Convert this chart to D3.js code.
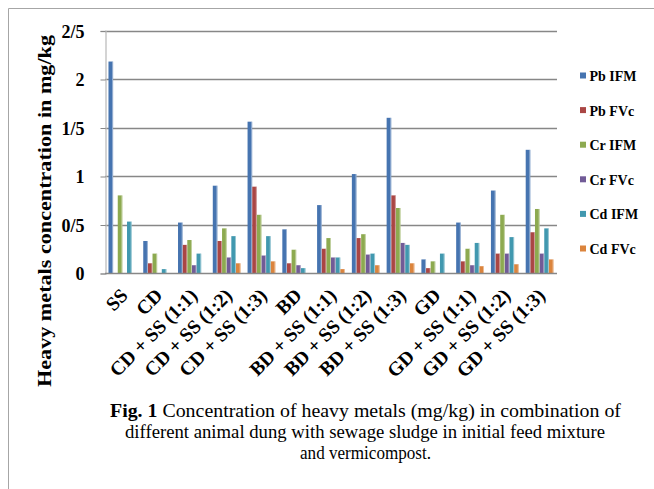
<!DOCTYPE html>
<html><head><meta charset="utf-8">
<script src="https://cdn.jsdelivr.net/npm/d3@7/dist/d3.min.js"></script>
<style>
body{margin:0;background:#fff;}
svg text, svg tspan{font-family:'Liberation Serif','Times New Roman',serif !important;}
</style></head>
<body><svg id="c" width="654" height="489" font-family="'Liberation Serif', serif"></svg>
<script>
const categories = ["SS","CD","CD + SS (1:1)","CD + SS (1:2)","CD + SS (1:3)","BD","BD + SS (1:1)","BD + SS (1:2)","BD + SS (1:3)","GD","GD + SS (1:1)","GD + SS (1:2)","GD + SS (1:3)"];
const seriesNames = ["Pb IFM","Pb FVc","Cr IFM","Cr FVc","Cd IFM","Cd FVc"];
const pbIFM = [2.18,0.33,0.52,0.90,1.56,0.45,0.70,1.02,1.60,0.14,0.52,0.85,1.27];
const pbFVc = [0,0.10,0.29,0.33,0.89,0.10,0.25,0.36,0.80,0.05,0.12,0.20,0.42];
const crIFM = [0.80,0.20,0.34,0.46,0.60,0.24,0.36,0.40,0.67,0.12,0.25,0.60,0.66];
const crFVc = [0,0,0.08,0.16,0.18,0.08,0.16,0.19,0.31,0,0.08,0.20,0.20];
const cdIFM = [0.53,0.04,0.20,0.38,0.38,0.05,0.16,0.20,0.29,0.20,0.31,0.37,0.46];
const cdFVc = [0,0,0,0.10,0.12,0,0.04,0.08,0.10,0,0.07,0.09,0.14];
const yTickValues = [0,0.5,1,1.5,2,2.5];
const yTickLabels = ["0","0/5","1","1/5","2","2/5"];
const seriesValues = [pbIFM,pbFVc,crIFM,crFVc,cdIFM,cdFVc];
const colors = ["#4674B0","#AA4644","#8DAA50","#715B97","#4198AF","#DB843D"];
const SERIF = "'Liberation Serif','Times New Roman',serif";

const svg = d3.select("#c");
svg.append("path").attr("d","M8.5,489 L8.5,8.5 L654,8.5").attr("fill","none").attr("stroke","#a6a6a6");

const left=105, right=557, y0=273;
const y = d3.scaleLinear().domain([0,2.5]).range([y0, y0-2.5*97]);
const x0 = d3.scaleBand().domain(categories).range([left,right]).padding(0);
const bw = x0.bandwidth();
const x1 = d3.scaleBand().domain(seriesNames).range([bw*0.1, bw*0.9]).padding(0);

svg.append("g").selectAll("line").data(yTickValues.filter(v=>v>0)).join("line")
  .attr("x1",left).attr("x2",right)
  .attr("y1",d=>Math.round(y(d))+0.5).attr("y2",d=>Math.round(y(d))+0.5)
  .attr("stroke","#878787").attr("stroke-width",1.3);

const yAxis = d3.axisLeft(y).tickValues(yTickValues).tickSize(5).tickFormat((d,i)=>yTickLabels[i]);
const ga = svg.append("g").attr("transform",`translate(${left+0.5},0.5)`).call(yAxis);
ga.attr("font-family",SERIF);
ga.select(".domain").attr("stroke","#bdbdbd").attr("stroke-width",1.3);
ga.selectAll(".tick line").attr("stroke","#878787");
ga.selectAll(".tick text").attr("x",-21).attr("dy","0.35em")
  .attr("font-family",SERIF).attr("font-size",18).attr("font-weight","bold").attr("fill","#000");

const groups = svg.append("g").selectAll("g").data(categories).join("g")
  .attr("transform",d=>`translate(${x0(d)},0)`);
const barData = (c,ci)=>seriesNames.map((s,si)=>({s,si,v:seriesValues[si][ci]})).filter(d=>d.v>0);
groups.selectAll("rect").data(barData).join("rect")
  .attr("x",d=>x1(d.s)).attr("width",x1.bandwidth())
  .attr("y",d=>y(d.v)).attr("height",d=>y0-y(d.v))
  .attr("fill",d=>colors[d.si]);
groups.selectAll("line.edge").data(barData).join("line").attr("class","edge")
  .attr("x1",d=>x1(d.s)+x1.bandwidth()-0.5).attr("x2",d=>x1(d.s)+x1.bandwidth()-0.5)
  .attr("y1",d=>y(d.v)).attr("y2",y0)
  .attr("stroke","#fff").attr("stroke-opacity",0.45);

svg.append("line").attr("x1",left).attr("x2",right).attr("y1",y0+0.5).attr("y2",y0+0.5).attr("stroke","#878787").attr("stroke-width",1.3);

svg.append("g").selectAll("text").data(categories).join("text")
  .attr("transform",d=>`translate(${x0(d)+bw/2-3},${y0+14}) rotate(-45)`)
  .attr("text-anchor","end").attr("dy","0.7em")
  .attr("font-family",SERIF).attr("font-size",19.5).attr("font-weight","bold").text(d=>d);

svg.append("text").attr("transform","translate(51,211) rotate(-90)")
  .attr("text-anchor","middle").attr("font-family",SERIF).attr("font-size",19).attr("font-weight","bold")
  .attr("textLength",352).attr("lengthAdjust","spacingAndGlyphs")
  .text("Heavy metals concentration in mg/kg");

const lg = svg.append("g").selectAll("g").data(seriesNames).join("g")
  .attr("transform",(d,i)=>`translate(580,${76+i*34.6})`);
lg.append("rect").attr("x",0).attr("y",-3.5).attr("width",6).attr("height",6).attr("fill",(d,i)=>colors[i]);
lg.append("text").attr("x",9.5).attr("dy","0.35em").attr("font-family",SERIF).attr("font-size",14).attr("font-weight","bold").text(d=>d);

const cap = svg.append("g").attr("font-family",SERIF).attr("font-size",19);
const t1 = cap.append("text").attr("x",110).attr("y",417).attr("textLength",511).attr("lengthAdjust","spacingAndGlyphs");
t1.append("tspan").attr("font-weight","bold").text("Fig. 1");
t1.append("tspan").text(" Concentration of heavy metals (mg/kg) in combination of");
cap.append("text").attr("x",125).attr("y",438).attr("textLength",480).attr("lengthAdjust","spacingAndGlyphs")
  .text("different animal dung with sewage sludge in initial feed mixture");
cap.append("text").attr("x",300).attr("y",459).attr("textLength",131).attr("lengthAdjust","spacingAndGlyphs")
  .text("and vermicompost.");
</script></body></html>
